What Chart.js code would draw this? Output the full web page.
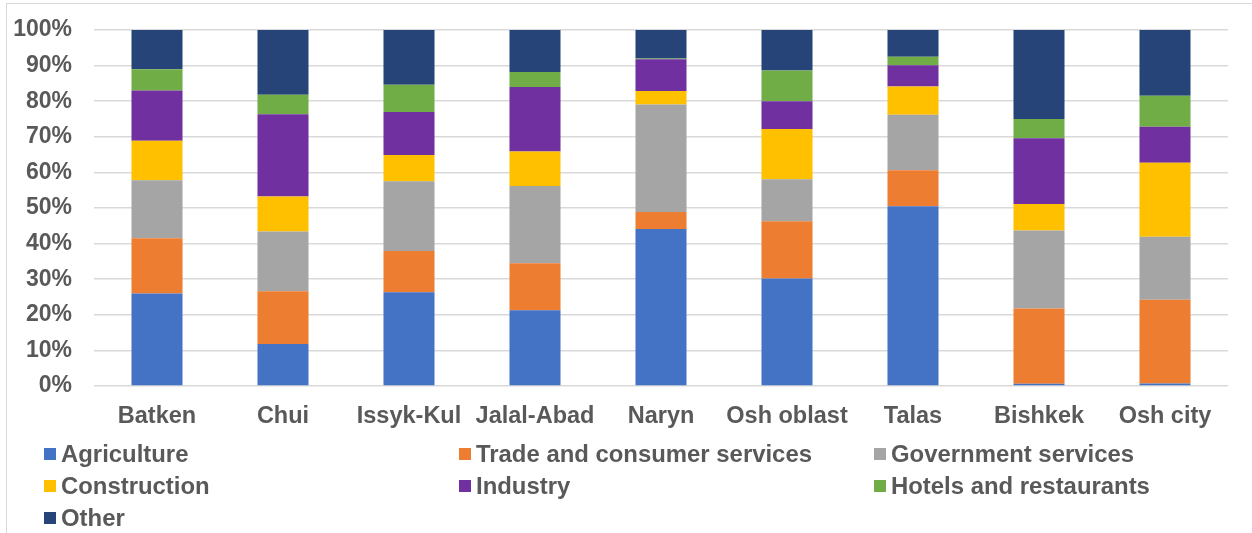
<!DOCTYPE html>
<html>
<head>
<meta charset="utf-8">
<script src="https://cdn.jsdelivr.net/npm/chart.js@4/dist/chart.umd.min.js"></script>
<style>
  html, body { margin: 0; padding: 0; background: #fff; }
  body { width: 1252px; height: 533px; position: relative; overflow: hidden; }
  #frame { position: absolute; left: 6px; top: 3px; width: 2000px; height: 2000px; border: 1.5px solid #d9d9d9; }
  #wrap { position: absolute; left: 0; top: 0; width: 1252px; height: 533px; }
  #legend { position: absolute; left: 44px; top: 438px; display: grid; grid-template-columns: 415px 415px 380px; grid-auto-rows: 32px;
    font-family: "Liberation Sans", Arial, sans-serif; font-weight: bold; font-size: 23.9px; color: #595959; }
  #legend .item { display: flex; align-items: center; white-space: nowrap; }
  #legend .box { width: 12px; height: 12px; margin-right: 5px; flex: none; }
</style>
</head>
<body>
<div id="frame"></div>
<div id="wrap"><canvas id="chart" width="1252" height="533"></canvas></div>
<div id="legend"></div>
<script>
// ---------- Employment structure by region (stacked 100% bars)

const regions = ["Batken", "Chui", "Issyk-Kul", "Jalal-Abad", "Naryn", "Osh oblast", "Talas", "Bishkek", "Osh city"];

const agriculture  = [26.0, 11.8, 26.3, 21.3, 44.1, 30.2, 50.5,  0.6,  0.7];
const trade        = [15.5, 14.8, 11.6, 13.2,  4.8, 16.1, 10.1, 21.2, 23.5];
const government   = [16.3, 16.8, 19.6, 21.7, 30.2, 11.8, 15.6, 21.9, 17.7];
const construction = [11.1,  9.8,  7.4,  9.7,  3.8, 14.1,  7.9,  7.4, 20.8];
const industry     = [14.1, 23.1, 12.1, 18.1,  8.9,  7.8,  6.0, 18.5, 10.1];
const hotels       = [ 6.0,  5.5,  7.6,  4.2,  0.2,  8.6,  2.4,  5.4,  8.7];
const other        = [11.0, 18.2, 15.4, 11.8,  8.0, 11.4,  7.5, 25.0, 18.5];

const yTicks = [0, 10, 20, 30, 40, 50, 60, 70, 80, 90, 100];

const textColor = "#595959";
const font = { family: "'Liberation Sans', Arial, sans-serif", size: 23.5, weight: "bold" };

const datasets = [
    { label: "Agriculture", data: agriculture, backgroundColor: "#4472C4" },
    { label: "Trade and consumer services", data: trade, backgroundColor: "#ED7D31" },
    { label: "Government services", data: government, backgroundColor: "#A5A5A5" },
    { label: "Construction", data: construction, backgroundColor: "#FFC000" },
    { label: "Industry", data: industry, backgroundColor: "#7030A0" },
    { label: "Hotels and restaurants", data: hotels, backgroundColor: "#70AD47" },
    { label: "Other", data: other, backgroundColor: "#264478" }
];

datasets.forEach(d => {
    d.barPercentage = 0.405;
    d.categoryPercentage = 1;
    d.borderWidth = 0;
});

const chart = new Chart(document.getElementById("chart"), {
    type: "bar",
    data: { labels: regions, datasets: datasets },
    options: {
        responsive: false,
        animation: false,
        layout: { padding: { top: 30, right: 24, bottom: 97, left: 0 } },
        plugins: {
            legend: { display: false },
            tooltip: { enabled: false }
        },
        scales: {
            x: {
                stacked: true,
                grid: { display: false, drawTicks: false },
                border: { display: false },
                ticks: { color: textColor, font: font, padding: 16, maxRotation: 0 },
                afterFit: s => { s.height = 50; s.paddingLeft = 0; s.paddingRight = 0; }
            },
            y: {
                stacked: true,
                min: 0,
                max: 100,
                afterBuildTicks: s => { s.ticks = yTicks.map(v => ({ value: v })); },
                grid: { color: "#d9d9d9", lineWidth: 1.5, drawTicks: false },
                border: { display: false },
                ticks: { color: textColor, font: { ...font, size: 23 }, padding: 22, callback: v => v + "%" },
                afterFit: s => { s.width = 94; s.paddingTop = 0; s.paddingBottom = 0; }
            }
        }
    }
});

// legend as three columns, built from the datasets
const legend = document.getElementById("legend");
datasets.forEach(d => {
    const item = document.createElement("div");
    item.className = "item";
    const box = document.createElement("span");
    box.className = "box";
    box.style.background = d.backgroundColor;
    const txt = document.createElement("span");
    txt.textContent = d.label;
    item.appendChild(box);
    item.appendChild(txt);
    legend.appendChild(item);
});
</script>
</body>
</html>
